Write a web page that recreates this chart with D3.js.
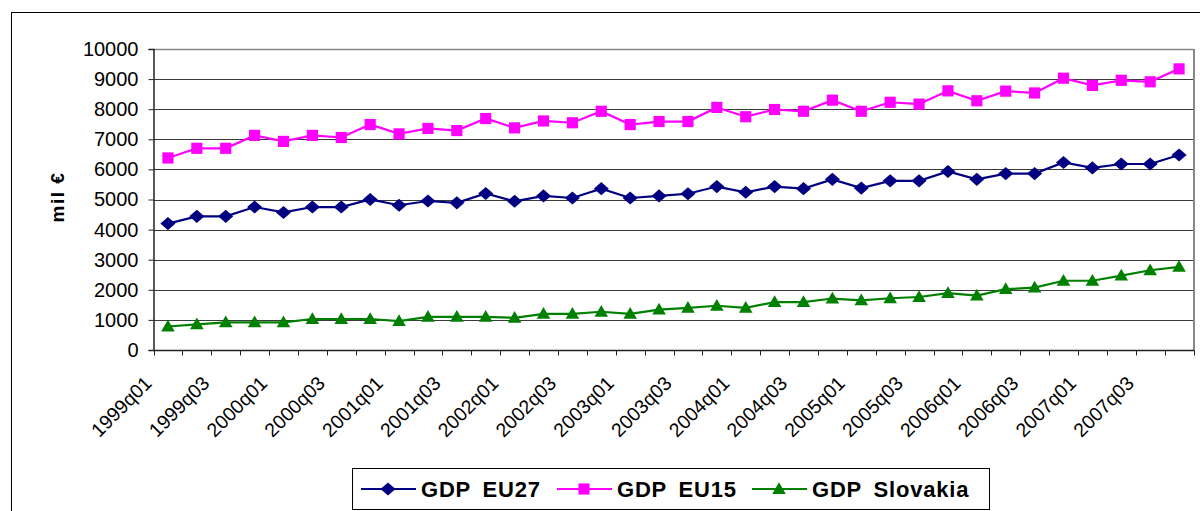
<!DOCTYPE html>
<html>
<head>
<meta charset="utf-8">
<script src="https://cdn.jsdelivr.net/npm/d3@7"></script>
<style>
  body { margin: 0; background: #fff; }
  svg { display: block; font-family: "Liberation Sans", Arial, sans-serif; }
</style>
</head>
<body>
<svg id="chart" width="1200" height="511"></svg>
<script>
// quarters on the x axis
var quarters = [
  "1999q01","1999q02","1999q03","1999q04","2000q01","2000q02","2000q03","2000q04",
  "2001q01","2001q02","2001q03","2001q04","2002q01","2002q02","2002q03","2002q04",
  "2003q01","2003q02","2003q03","2003q04","2004q01","2004q02","2004q03","2004q04",
  "2005q01","2005q02","2005q03","2005q04","2006q01","2006q02","2006q03","2006q04",
  "2007q01","2007q02","2007q03","2007q04"
];
// GDP, mil euro
var gdpEU27 = [4200,4440,4440,4750,4570,4750,4750,5000,4810,4950,4890,5200,
               4940,5120,5050,5360,5050,5120,5190,5430,5240,5430,5360,5670,
               5380,5620,5620,5930,5670,5860,5860,6230,6050,6180,6180,6480];
var gdpEU15 = [6380,6700,6700,7130,6930,7130,7060,7490,7180,7360,7290,7690,
               7380,7610,7550,7930,7490,7590,7590,8060,7750,7990,7930,8300,
               7930,8230,8170,8610,8280,8600,8540,9030,8790,8960,8910,9340];
var gdpSlovakia = [780,850,920,920,920,1030,1030,1030,960,1100,1100,1100,
                   1070,1200,1200,1270,1200,1340,1400,1470,1400,1590,1590,1710,
                   1650,1720,1760,1890,1810,2020,2070,2300,2300,2470,2650,2760];
var yTicks = [0,1000,2000,3000,4000,5000,6000,7000,8000,9000,10000];
var seriesNames = ["GDP EU27", "GDP EU15", "GDP Slovakia"];
var seriesColors = ["#000080", "#ff00ff", "#008000"];
var seriesShapes = ["diamond", "square", "triangle"];

var svg = d3.select("#chart");
var plotLeft = 153.5, plotRight = 1193.5, plotTop = 49, plotBottom = 350;

// outer chart frame
svg.append("rect")
  .attr("x", 11.5).attr("y", 12.5)
  .attr("width", 1250).attr("height", 600)
  .attr("fill", "none").attr("stroke", "#000").attr("stroke-width", 1);

var x = d3.scaleBand().domain(quarters).range([plotLeft, plotRight]).padding(0);
var y = d3.scaleLinear().domain([0, 10000]).range([plotBottom, plotTop]);

// gridlines
svg.append("g")
  .selectAll("line")
  .data(yTicks.filter(function(d) { return d > 0; }))
  .enter()
  .append("line")
  .attr("x1", plotLeft).attr("x2", plotRight)
  .attr("y1", function(d) { return Math.round(y(d)) + 0.5; })
  .attr("y2", function(d) { return Math.round(y(d)) + 0.5; })
  .attr("stroke", "#3a3a3a")
  .attr("stroke-width", 1);

// plot area border (top and right, gray)
svg.append("line")
  .attr("x1", plotRight + 0.5).attr("x2", plotRight + 0.5)
  .attr("y1", plotTop).attr("y2", plotBottom)
  .attr("stroke", "#888").attr("stroke-width", 2);
svg.append("line")
  .attr("x1", plotLeft).attr("x2", plotRight)
  .attr("y1", plotTop + 0.5).attr("y2", plotTop + 0.5)
  .attr("stroke", "#888").attr("stroke-width", 1.5);

// y axis
var yAxis = d3.axisLeft(y).tickValues(yTicks).tickSize(5).tickPadding(10)
  .tickFormat(function(d) { return d; });
var gy = svg.append("g").attr("transform", "translate(" + plotLeft + ",0)").call(yAxis);
gy.select(".domain").attr("stroke", "#222").attr("stroke-width", 1.5);
gy.selectAll(".tick line").attr("stroke", "#222");
gy.selectAll("text")
  .attr("font-size", "20px")
  .attr("font-family", "Liberation Sans, Arial, sans-serif")
  .attr("fill", "#000");

// x axis: ticks on the band edges, labels every second quarter
var gx = svg.append("g").attr("transform", "translate(0," + (plotBottom + 0.5) + ")");
gx.append("line")
  .attr("x1", plotLeft).attr("x2", plotRight + 1)
  .attr("stroke", "#222").attr("stroke-width", 1.5);
var edges = quarters.map(function(q) { return x(q); }).concat([plotRight]);
gx.selectAll("line.tk")
  .data(edges)
  .enter()
  .append("line")
  .attr("class", "tk")
  .attr("x1", function(d) { return Math.round(d) + 0.5; })
  .attr("x2", function(d) { return Math.round(d) + 0.5; })
  .attr("y1", 0).attr("y2", 5)
  .attr("stroke", "#222");
gx.selectAll("text")
  .data(quarters.filter(function(q, i) { return i % 2 == 0; }))
  .enter()
  .append("text")
  .text(function(d) { return d; })
  .attr("transform", function(d) {
    var cx = x(d) + x.bandwidth() / 2 - 15;
    return "translate(" + cx + ",34) rotate(-45)";
  })
  .attr("text-anchor", "end")
  .attr("font-size", "19.5px")
  .attr("fill", "#000");

// y axis title
svg.append("text")
  .text("mil €")
  .attr("transform", "translate(64,197) rotate(-90)")
  .attr("text-anchor", "middle")
  .attr("font-size", "19px")
  .attr("font-weight", "bold")
  .attr("letter-spacing", "1.5px")
  .attr("fill", "#000");

function symbolFor(shape) {
  if (shape == "diamond") return d3.symbol().type(d3.symbolDiamond2).size(110);
  if (shape == "square") return d3.symbol().type(d3.symbolSquare).size(125);
  return d3.symbol().type(d3.symbolTriangle).size(80);
}

var allSeries = [gdpEU27, gdpEU15, gdpSlovakia];
var line = d3.line()
  .x(function(d, i) { return x(quarters[i]) + x.bandwidth() / 2; })
  .y(function(d) { return y(d); });

// draw order: Slovakia, EU15, EU27
[2, 1, 0].forEach(function(s) {
  var g = svg.append("g");
  g.append("path")
    .datum(allSeries[s])
    .attr("d", line)
    .attr("fill", "none")
    .attr("stroke", seriesColors[s])
    .attr("stroke-width", 2.2);
  g.selectAll("path.pt")
    .data(allSeries[s])
    .enter()
    .append("path")
    .attr("class", "pt")
    .attr("d", symbolFor(seriesShapes[s]))
    .attr("transform", function(d, i) {
      var dx = x(quarters[i]) + x.bandwidth() / 2;
      var dy = y(d) + (seriesShapes[s] == "triangle" ? 1 : 0);
      return "translate(" + dx + "," + dy + ")" + (seriesShapes[s] == "diamond" ? " scale(1.15,1)" : "");
    })
    .attr("fill", seriesColors[s]);
});

// legend
var legend = svg.append("g");
legend.append("rect")
  .attr("x", 352.5).attr("y", 468.5)
  .attr("width", 637).attr("height", 41)
  .attr("fill", "#fff").attr("stroke", "#000").attr("stroke-width", 1);
var legendX = [361, 557, 752];
seriesNames.forEach(function(name, s) {
  var lx = legendX[s];
  legend.append("line")
    .attr("x1", lx).attr("x2", lx + 55)
    .attr("y1", 489).attr("y2", 489)
    .attr("stroke", seriesColors[s]).attr("stroke-width", 2.2);
  legend.append("path")
    .attr("d", symbolFor(seriesShapes[s]))
    .attr("transform", "translate(" + (lx + 27) + "," + (seriesShapes[s] == "triangle" ? 490 : 489) + ")" +
      (seriesShapes[s] == "diamond" ? " scale(1.15,1)" : ""))
    .attr("fill", seriesColors[s]);
  legend.append("text")
    .text(name)
    .attr("x", lx + 60).attr("y", 497)
    .attr("font-size", "22px")
    .attr("font-weight", "bold")
    .attr("word-spacing", "5px")
    .attr("letter-spacing", "0.8px")
    .attr("fill", "#000");
});
</script>
</body>
</html>
